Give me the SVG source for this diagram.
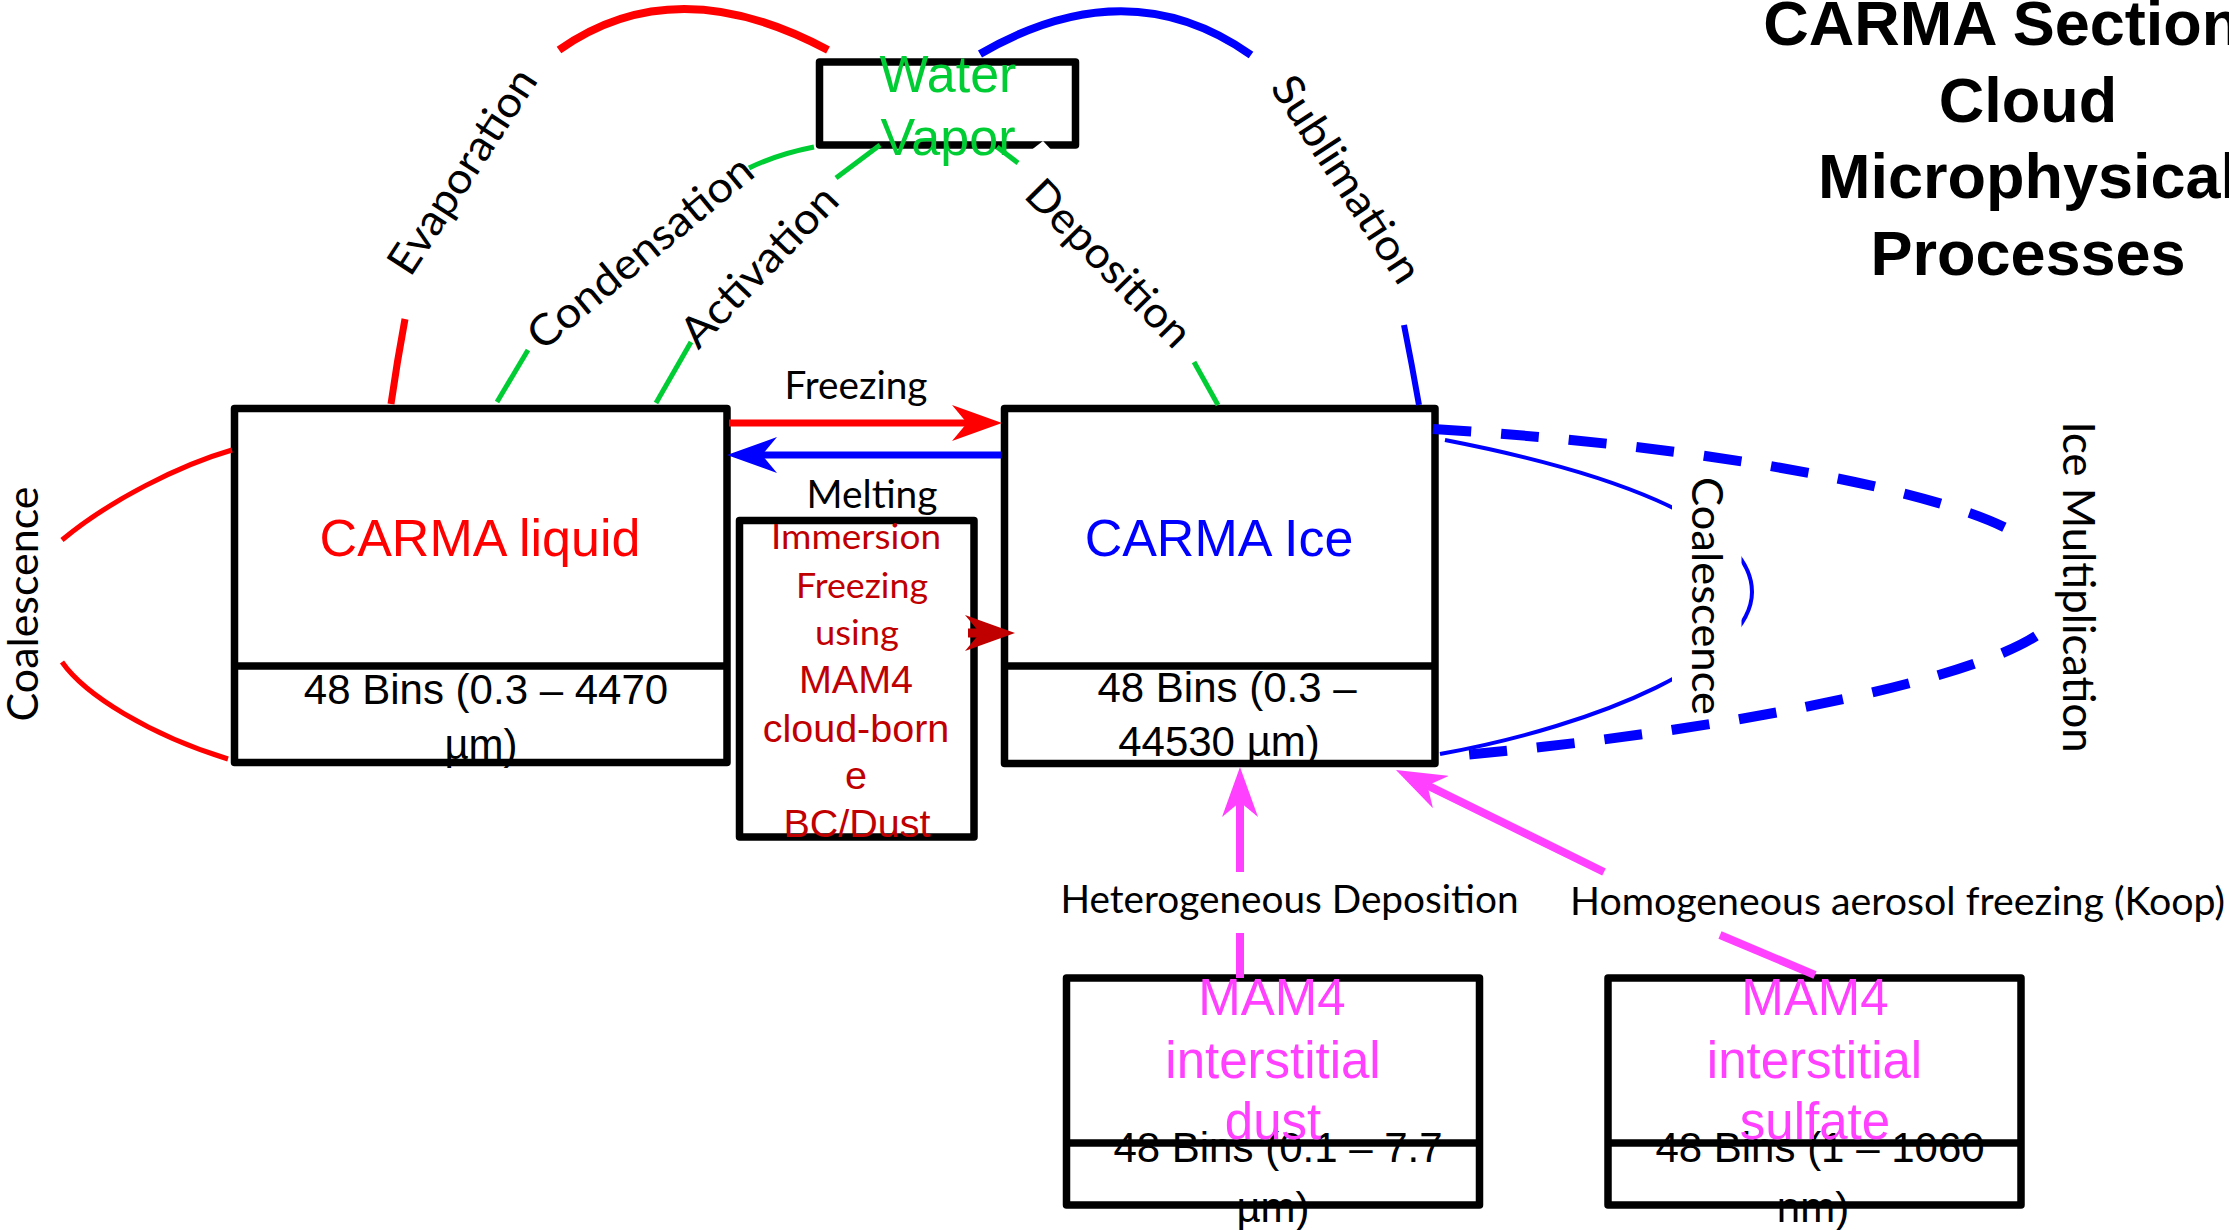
<svg xmlns="http://www.w3.org/2000/svg" width="2229" height="1230" viewBox="0 0 2229 1230">
<defs>
<style>
.box{fill:#fff;stroke:#000;stroke-width:7.5;stroke-linejoin:round}
.dv{stroke:#000;stroke-width:7.5}
.ar{font-family:"Liberation Sans",Arial,sans-serif}
.cal{font-family:Lato,"Liberation Sans",sans-serif}
.mid{text-anchor:middle}
.ln{fill:none;stroke-linecap:butt}
.red{stroke:#ff0000}
.blue{stroke:#0000ff}
.grn{stroke:#00cc33;stroke-width:5}
.mag{stroke:#ff40ff;stroke-width:8}
.lbl{font-family:Lato,"Liberation Sans",sans-serif;fill:#000}
</style>
<marker id="arRed" markerUnits="userSpaceOnUse" markerWidth="50" markerHeight="36" refX="15" refY="18" orient="auto" viewBox="0 0 50 36"><path d="M0,0 L50,18 L0,36 L15,18 Z" fill="#ff0000"/></marker>
<marker id="arBlue" markerUnits="userSpaceOnUse" markerWidth="50" markerHeight="36" refX="15" refY="18" orient="auto" viewBox="0 0 50 36"><path d="M0,0 L50,18 L0,36 L15,18 Z" fill="#0000ff"/></marker>
<marker id="arDark" markerUnits="userSpaceOnUse" markerWidth="50" markerHeight="36" refX="15" refY="18" orient="auto" viewBox="0 0 50 36"><path d="M0,0 L50,18 L0,36 L15,18 Z" fill="#c00000"/></marker>
<marker id="arMag" markerUnits="userSpaceOnUse" markerWidth="50" markerHeight="36" refX="15" refY="18" orient="auto" viewBox="0 0 50 36"><path d="M0,0 L50,18 L0,36 L15,18 Z" fill="#ff40ff"/></marker>
<mask id="mCoal" maskUnits="userSpaceOnUse" x="0" y="0" width="2229" height="1230">
<rect x="0" y="0" width="2229" height="1230" fill="#fff"/>
<rect x="1672" y="490" width="69.5" height="200" fill="#000"/>
</mask>
</defs>
<rect x="0" y="0" width="2229" height="1230" fill="#fff"/>

<g id="title" class="ar" font-weight="bold" font-size="63" text-anchor="middle" fill="#000">
<text x="2028" y="45">CARMA Sectional</text>
<text x="2028" y="122">Cloud</text>
<text x="2028" y="198">Microphysical</text>
<text x="2028" y="275">Processes</text>
</g>

<g id="water-vapor">
<rect class="box" x="819.5" y="62" width="256" height="83"/>
<polygon points="1032,149.5 1043,141 1051,149.5" fill="#fff"/>
<text class="ar mid" x="948" y="92" font-size="52" fill="#00cc33">Water</text>
<text class="ar mid" x="948" y="155" font-size="52" fill="#00cc33">Vapor</text>
</g>

<g id="carma-liquid">
<rect class="box" x="234.5" y="408.5" width="492.5" height="354"/>
<line class="dv" x1="234.5" y1="666" x2="727" y2="666"/>
<text class="ar mid" x="480" y="556" font-size="52" fill="#ff0000">CARMA liquid</text>
<text class="ar mid" x="486" y="704" font-size="42" fill="#000">48 Bins (0.3 – 4470</text>
<text class="ar mid" x="481" y="759" font-size="42" fill="#000">µm)</text>
</g>

<g id="carma-ice">
<rect class="box" x="1004.5" y="408.5" width="430.5" height="355"/>
<line class="dv" x1="1004.5" y1="666" x2="1435" y2="666"/>
<text class="ar mid" x="1219" y="556" font-size="52" fill="#0000ff">CARMA Ice</text>
<text class="ar mid" x="1227" y="702" font-size="42" fill="#000">48 Bins (0.3 –</text>
<text class="ar mid" x="1219" y="756" font-size="42" fill="#000">44530 µm)</text>
</g>

<g id="immersion">
<rect class="box" x="739.5" y="520.5" width="234.5" height="316.5"/>
<text class="cal mid" x="856" y="549" font-size="35" fill="#c00000" textLength="170" lengthAdjust="spacingAndGlyphs">Immersion</text>
<text class="cal mid" x="862" y="598" font-size="35" fill="#c00000" textLength="132" lengthAdjust="spacingAndGlyphs">Freezing</text>
<text class="cal mid" x="857" y="645" font-size="35" fill="#c00000" textLength="84" lengthAdjust="spacingAndGlyphs">using</text>
<text class="ar mid" x="856" y="693" font-size="39.5" fill="#c00000">MAM4</text>
<text class="ar mid" x="856" y="742" font-size="39.5" fill="#c00000">cloud-born</text>
<text class="ar mid" x="856" y="789" font-size="39.5" fill="#c00000">e</text>
<text class="ar mid" x="857" y="837" font-size="39.5" fill="#c00000">BC/Dust</text>
</g>

<g id="mam4-dust">
<rect class="box" x="1066.5" y="978" width="413" height="227"/>
<line class="dv" x1="1066.5" y1="1143" x2="1479.5" y2="1143"/>
<text class="ar mid" x="1278" y="1162" font-size="42" fill="#000">48 Bins (0.1 – 7.7</text>
<text class="ar mid" x="1273" y="1222" font-size="42" fill="#000">µm)</text>
<text class="ar mid" x="1272" y="1015" font-size="51" fill="#ff40ff">MAM4</text>
<text class="ar mid" x="1273" y="1078" font-size="51" fill="#ff40ff">interstitial</text>
<text class="ar mid" x="1273" y="1139" font-size="51" fill="#ff40ff">dust</text>
</g>

<g id="mam4-sulfate">
<rect class="box" x="1608" y="978" width="413" height="227"/>
<line class="dv" x1="1608" y1="1143" x2="2021" y2="1143"/>
<text class="ar mid" x="1820" y="1162" font-size="42" fill="#000">48 Bins (1 – 1060</text>
<text class="ar mid" x="1813" y="1222" font-size="42" fill="#000">nm)</text>
<text class="ar mid" x="1815" y="1015" font-size="51" fill="#ff40ff">MAM4</text>
<text class="ar mid" x="1814.5" y="1078" font-size="51" fill="#ff40ff">interstitial</text>
<text class="ar mid" x="1815" y="1139" font-size="51" fill="#ff40ff">sulfate</text>
</g>

<g id="connectors">
<!-- Evaporation -->
<path class="ln red" stroke-width="7" d="M391,404 Q397,362 405,319"/>
<path class="ln red" stroke-width="8" d="M559,50 Q675,-32 828,50"/>
<!-- Sublimation -->
<path class="ln blue" stroke-width="8" d="M980,54 Q1128,-32 1251,55"/>
<path class="ln blue" stroke-width="6" d="M1404,325 Q1412,365 1419,405"/>
<!-- Condensation -->
<path class="ln grn" d="M497,402 L528,350"/>
<path class="ln grn" d="M749,168 Q778,154 814,147"/>
<!-- Activation -->
<path class="ln grn" d="M656,403 L691,342"/>
<path class="ln grn" d="M836,178 L880,145"/>
<!-- Deposition -->
<path class="ln grn" d="M997,147 L1018,163"/>
<path class="ln grn" d="M1194,362 L1218,405"/>
<!-- Freezing / Melting -->
<path class="ln red" stroke-width="7" d="M729,423 L967,423" marker-end="url(#arRed)"/>
<path class="ln blue" stroke-width="7" d="M1001,455 L762,455" marker-end="url(#arBlue)"/>
<!-- Immersion freezing -->
<path class="ln" stroke="#c00000" stroke-width="9" d="M968,633 L980,633" marker-end="url(#arDark)"/>
<!-- Liquid coalescence -->
<path class="ln red" stroke-width="5" d="M232,450 C180,465 110,500 62,540"/>
<path class="ln red" stroke-width="5" d="M62,662 C85,695 150,735 228,759"/>
<!-- Ice coalescence -->
<path class="ln blue" stroke-width="4" mask="url(#mCoal)" d="M1445,440 C1600,470 1752,520 1752,592 C1752,660 1600,725 1440,754"/>
<!-- Ice multiplication -->
<path class="ln blue" stroke-width="10" stroke-dasharray="38 30" d="M1433,429 C1700,445 1950,490 2022,537"/>
<path class="ln blue" stroke-width="10" stroke-dasharray="38 30" d="M2036,636 C1960,685 1700,735 1440,757"/>
<!-- Heterogeneous deposition -->
<path class="ln mag" d="M1240,872 L1240,802" marker-end="url(#arMag)"/>
<path class="ln mag" d="M1240,933 L1240,978"/>
<!-- Homogeneous freezing -->
<path class="ln mag" d="M1604,872 L1427.4,785.4" marker-end="url(#arMag)"/>
<path class="ln mag" d="M1720,935 L1815,975"/>
</g>

<g id="labels" class="lbl">
<text transform="translate(462,171) rotate(-57)" text-anchor="middle" dy="0.35em" font-size="43" textLength="236" lengthAdjust="spacingAndGlyphs">Evaporation</text>
<text transform="translate(640,252) rotate(-39.5)" text-anchor="middle" dy="0.35em" font-size="43" textLength="278" lengthAdjust="spacingAndGlyphs">Condensation</text>
<text transform="translate(759,266) rotate(-46)" text-anchor="middle" dy="0.35em" font-size="43" textLength="206" lengthAdjust="spacingAndGlyphs">Activation</text>
<text transform="translate(1109,263) rotate(45.5)" text-anchor="middle" dy="0.35em" font-size="43" textLength="216" lengthAdjust="spacingAndGlyphs">Deposition</text>
<text transform="translate(1347,179) rotate(57)" text-anchor="middle" dy="0.35em" font-size="43" textLength="238" lengthAdjust="spacingAndGlyphs">Sublimation</text>
<text x="856" y="399" text-anchor="middle" font-size="38" textLength="143" lengthAdjust="spacingAndGlyphs">Freezing</text>
<text x="872" y="508" text-anchor="middle" font-size="38" textLength="131" lengthAdjust="spacingAndGlyphs">Melting</text>
<text transform="translate(38,604) rotate(-90)" text-anchor="middle" font-size="42" textLength="235" lengthAdjust="spacingAndGlyphs">Coalescence</text>
<text transform="translate(1692,596) rotate(90)" text-anchor="middle" font-size="43" textLength="238" lengthAdjust="spacingAndGlyphs">Coalescence</text>
<text transform="translate(2063,587) rotate(90)" text-anchor="middle" font-size="45" textLength="331" lengthAdjust="spacingAndGlyphs">Ice Multiplication</text>
<text x="1289.5" y="913" text-anchor="middle" font-size="38" textLength="458" lengthAdjust="spacingAndGlyphs">Heterogeneous Deposition</text>
<text x="1570" y="915" font-size="38" textLength="655" lengthAdjust="spacingAndGlyphs">Homogeneous aerosol freezing (Koop)</text>
</g>
</svg>
